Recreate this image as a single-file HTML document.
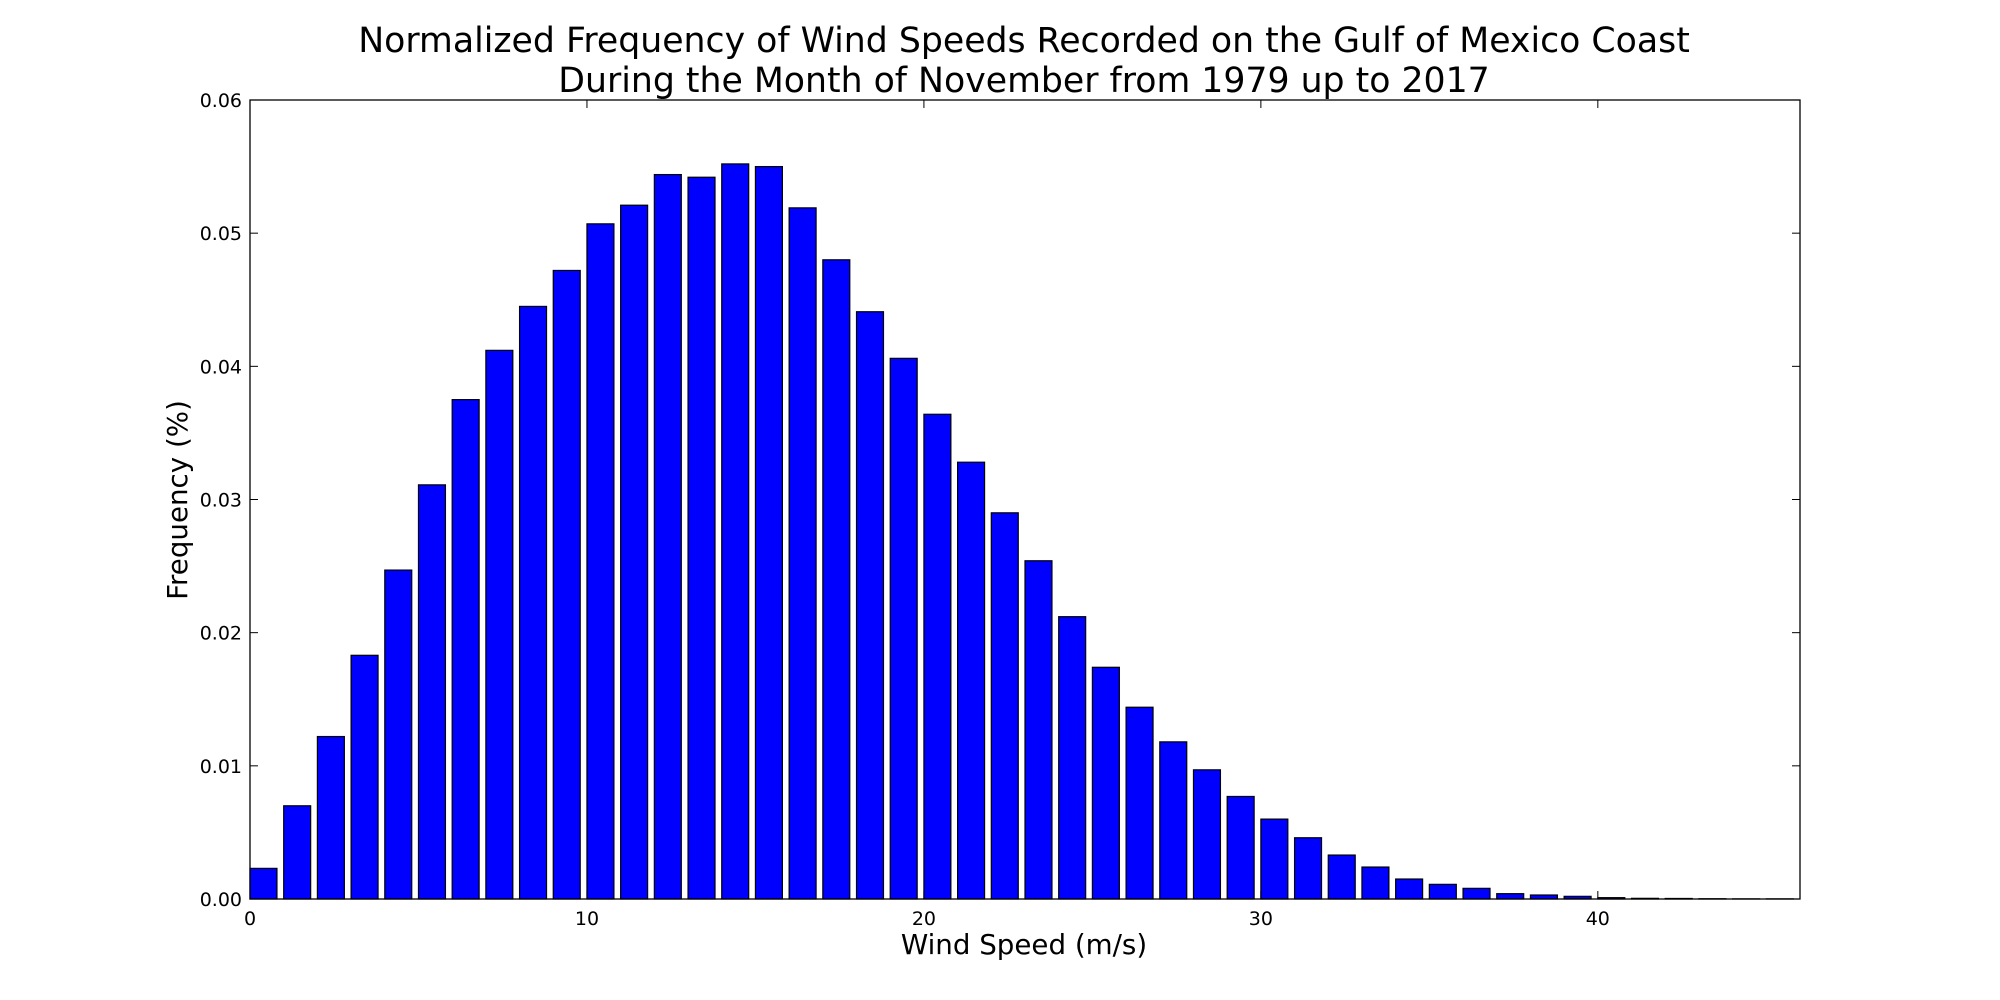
<!DOCTYPE html>
<html><head><meta charset="utf-8"><style>
html,body{margin:0;padding:0;background:#fff;width:2000px;height:1000px;overflow:hidden}
svg{font-family:"DejaVu Sans","Liberation Sans",sans-serif}
</style></head><body>
<svg id="chart" width="2000" height="1000" xmlns="http://www.w3.org/2000/svg">
<g>
<text x="1024" y="52" font-size="34.7" text-anchor="middle">Normalized Frequency of Wind Speeds Recorded on the Gulf of Mexico Coast</text>
<text x="1024" y="92" font-size="34.7" text-anchor="middle">During the Month of November from 1979 up to 2017</text>
</g>
<g id="bars"></g>
<g id="axes"></g>
<text x="1024" y="954" font-size="27.7" text-anchor="middle">Wind Speed (m/s)</text>
<text x="187" y="500" font-size="27.7" text-anchor="middle" transform="rotate(-90 187 500)">Frequency (%)</text>
</svg>
<script>
const categories = [0,1,2,3,4,5,6,7,8,9,10,11,12,13,14,15,16,17,18,19,20,21,22,23,24,25,26,27,28,29,30,31,32,33,34,35,36,37,38,39,40,41,42,43,44,45];
const frequencies = [0.0023,0.0070,0.0122,0.0183,0.0247,0.0311,0.0375,0.0412,0.0445,0.0472,0.0507,0.0521,0.0544,0.0542,0.0552,0.0550,0.0519,0.0480,0.0441,0.0406,0.0364,0.0328,0.0290,0.0254,0.0212,0.0174,0.0144,0.0118,0.0097,0.0077,0.0060,0.0046,0.0033,0.0024,0.0015,0.0011,0.0008,0.0004,0.0003,0.0002,0.0001,0.00005,0.00004,0.00002,0.00001,0.00001];
const xTicks = [0,10,20,30,40];
const yTicks = [0.00,0.01,0.02,0.03,0.04,0.05,0.06];
const yTickLabels = ["0.00","0.01","0.02","0.03","0.04","0.05","0.06"];
const L=250,R=1800,T=100,B=899,XMAX=46,YMAX=0.06;
const xs=v=>L+(R-L)*v/XMAX, ys=v=>B-(B-T)*v/YMAX;
const NS="http://www.w3.org/2000/svg";
const bars=document.getElementById('bars'), axes=document.getElementById('axes');
function mk(tag,attrs,parent){const e=document.createElementNS(NS,tag);for(const k in attrs)e.setAttribute(k,attrs[k]);parent.appendChild(e);return e;}
categories.forEach((c,i)=>{
  const x0=xs(c),x1=xs(c+0.8),y=ys(frequencies[i]);
  const r=mk('rect',{x:x0,y:y,width:x1-x0,height:B-y,fill:'#0000ff',stroke:'#000','stroke-width':1.2},bars);
  
  
});
const frame=mk('rect',{x:L,y:T,width:R-L,height:B-T,fill:'none',stroke:'#000','stroke-width':1.3},axes);


xTicks.forEach(t=>{
  const x=xs(t);
  mk('line',{x1:x,x2:x,y1:B,y2:B-8,stroke:'#000'},axes);
  mk('line',{x1:x,x2:x,y1:T,y2:T+8,stroke:'#000'},axes);
  const tx=mk('text',{x:x,y:B+26,'font-size':19,'text-anchor':'middle'},axes);
  tx.textContent=t;
  
  
});
yTicks.forEach((t,i)=>{
  const y=ys(t);
  mk('line',{x1:L,x2:L+8,y1:y,y2:y,stroke:'#000'},axes);
  mk('line',{x1:R,x2:R-8,y1:y,y2:y,stroke:'#000'},axes);
  const tx=mk('text',{x:L-8,y:y+7,'font-size':19,'text-anchor':'end'},axes);
  tx.textContent=yTickLabels[i];
  
  
});
</script>
</body></html>
